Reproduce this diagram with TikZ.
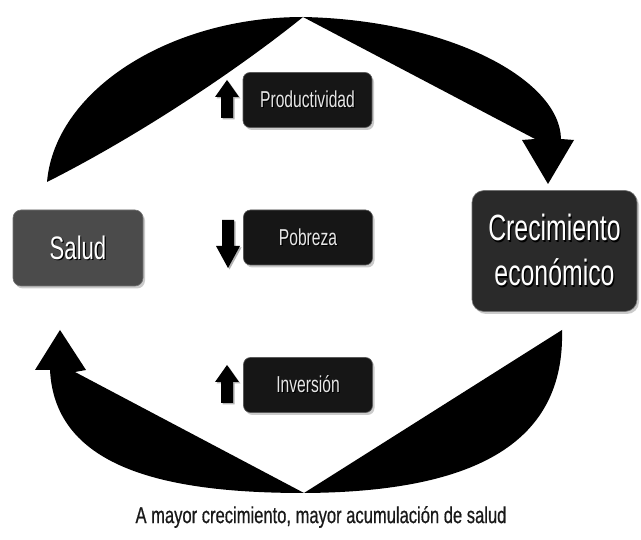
\documentclass[tikz,border=0pt]{standalone}
\usepackage{fontspec}
\usetikzlibrary{shadows}
\newfontfamily\narrowfont[FakeStretch=0.68]{Liberation Sans}
\newfontfamily\capfont[FakeStretch=0.72,FakeBold=0.6]{Liberation Sans}
\definecolor{boxblack}{HTML}{161616}
\definecolor{boxdark}{HTML}{2A2A2A}
\definecolor{boxgray}{HTML}{4B4B4B}
\definecolor{labelgray}{HTML}{E6E6E6}
% light text with a dark offset copy behind it
\newcommand\embossed[1]{\leavevmode\rlap{\kern1.2pt\raisebox{-1.2pt}{\color{black}#1}}#1}
\tikzset{
  boxshadow/.style={drop shadow={shadow xshift=2pt, shadow yshift=-2.5pt, fill=black!40}},
  labelbox/.style={boxshadow, rounded corners=7pt, fill=boxblack, draw=black!65,
    line width=0.6pt, minimum width=129pt, minimum height=55pt, inner sep=0pt,
    text=labelgray, font=\narrowfont\fontsize{23}{26}\selectfont},
  mainbox/.style={boxshadow, fill=boxgray, draw=black!55, line width=0.6pt,
    inner sep=0pt, text=white},
  bigarrow/.style={fill=black},
  blockup/.pic={
    \fill[black!30] (1.5,1.5) -- ++(12,17) -- ++(-6,0) -- ++(0,21) -- ++(-12,0) -- ++(0,-21) -- ++(-6,0) -- cycle;
    \fill[black] (0,0) -- (12,17) -- (6,17) -- (6,38) -- (-6,38) -- (-6,17) -- (-12,17) -- cycle;
  },
  blockdown/.pic={
    \fill[black!30] (1.5,1.5) -- ++(12,-22) -- ++(-6,0) -- ++(0,-26) -- ++(-12,0) -- ++(0,26) -- ++(-6,0) -- cycle;
    \fill[black] (0,0) -- (12,-22) -- (6,-22) -- (6,-48) -- (-6,-48) -- (-6,-22) -- (-12,-22) -- cycle;
  }
}
\begin{document}
\begin{tikzpicture}[x=1pt,y=-1pt]
\useasboundingbox[fill=white] (0,0) rectangle (641,540);

% meeting points of the two arcs
\coordinate (top) at (303,17);
\coordinate (bottom) at (304,493);

% upper arc, left half
\fill[bigarrow] (47,182) .. controls (55,90) and (170,17) .. (top)
  .. controls (250,60) and (150,130) .. (47,182) -- cycle;
% upper arc, right half ending in the arrowhead
\fill[bigarrow] (top) .. controls (450,20) and (560,80) .. (561,139)
  -- (574,140) -- (548,184) -- (522,140) -- (535,139) -- cycle;
% lower arc, left half ending in the arrowhead
\fill[bigarrow] (bottom) .. controls (170,493) and (55,470) .. (50,370)
  -- (35,370) -- (60,330) -- (86,370) -- (75,372) -- cycle;
% lower arc, right half
\fill[bigarrow] (bottom) .. controls (480,492) and (565,440) .. (562,330) -- cycle;

% boxes
\node[mainbox, rounded corners=8pt, minimum width=130pt, minimum height=76pt,
  font=\narrowfont\fontsize{32.5}{36}\selectfont] (salud) at (78,248) {\embossed{Salud}};
\node[mainbox, fill=boxdark, rounded corners=12pt, minimum width=165pt, minimum height=121pt,
  align=center, font=\narrowfont\fontsize{36.5}{45}\selectfont] (crec) at (554.5,251)
  {\embossed{Crecimiento}\\\embossed{económico}};

\node[labelbox] (prod) at (307.5,100) {\embossed{Productividad}};
\node[labelbox] (pobr) at (308,237.5) {\embossed{Pobreza}};
\node[labelbox] (inve) at (308,385) {\embossed{Inversión}};

% small direction arrows
\pic at (227,80) {blockup};
\pic at (228,268) {blockdown};
\pic at (227,365) {blockup};

% caption
\node[text=black!90, font=\capfont\fontsize{23}{26}\selectfont] (cap) at (321,517)
  {A mayor crecimiento, mayor acumulación de salud};
\end{tikzpicture}
\end{document}
